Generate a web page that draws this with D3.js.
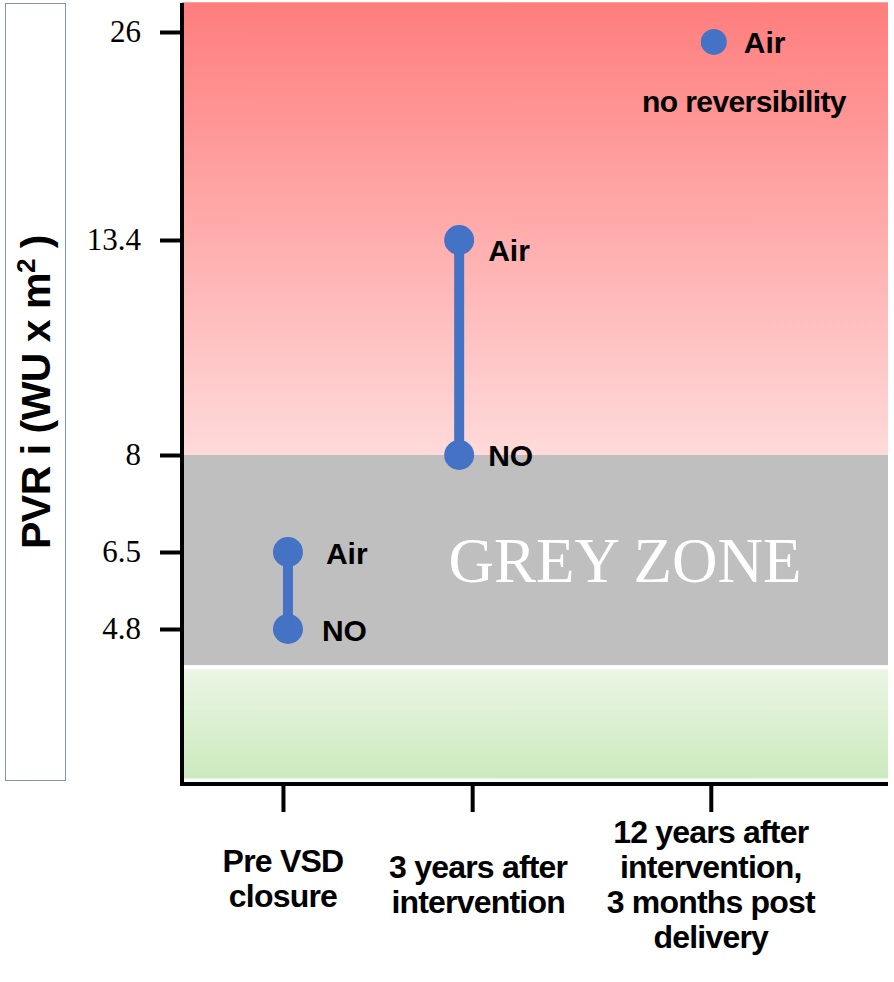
<!DOCTYPE html>
<html>
<head>
<meta charset="utf-8">
<script src="https://cdn.jsdelivr.net/npm/d3@7"></script>
<style>
  body { margin: 0; background: #fff; }
  svg { display: block; }
</style>
</head>
<body>
<svg id="chart"></svg>
<script>
// categories on the x axis (one array per line of the label)
const categories = ["Pre VSD closure", "3 years after intervention", "12 years after intervention, 3 months post delivery"];
const categoryLines = [
    ["Pre VSD", "closure"],
    ["3 years after", "intervention"],
    ["12 years after", "intervention,", "3 months post", "delivery"]
];

const airValues = [6.5, 13.4, 25.4];
const noValues = [4.8, 8, null];

// y tick labels - the axis is not linear, each tick sits where the original put it
const yTicks = [4.8, 6.5, 8, 13.4, 26];

// zones (PVRi)
const zoneNames = ["normal", "grey", "high"];
const zoneFrom = [1.5, 4, 8];
const zoneTo = [4, 8, 27.8];

const width = 894, height = 982;
const plot = { left: 182, right: 888, top: 3, bottom: 784 };

const svg = d3.select("#chart")
    .attr("width", width)
    .attr("height", height);

// piecewise scale, one segment between each tick
const y = d3.scaleLinear()
    .domain(yTicks)
    .range([629, 552, 455, 240, 32]);

// x positions of the three categories, as a share of the plot width
const xFrac = [0.143, 0.411, 0.749];
const x = d3.scaleOrdinal()
    .domain(categories)
    .range(xFrac.map(f => plot.left + f * (plot.right - plot.left)));
// the dots sit a little off their ticks in the original
const dotShift = [5, -13, 3];

// gradients
const defs = svg.append("defs");
const redGrad = defs.append("linearGradient").attr("id", "redGrad")
    .attr("x1", 0).attr("y1", 0).attr("x2", 0).attr("y2", 1);
redGrad.append("stop").attr("offset", "0%").attr("stop-color", "#ff7d7d");
redGrad.append("stop").attr("offset", "100%").attr("stop-color", "#ffdada");
const greenGrad = defs.append("linearGradient").attr("id", "greenGrad")
    .attr("x1", 0).attr("y1", 0).attr("x2", 0).attr("y2", 1);
greenGrad.append("stop").attr("offset", "0%").attr("stop-color", "#ecf6e6");
greenGrad.append("stop").attr("offset", "100%").attr("stop-color", "#cbeabd");

const zoneFill = d3.scaleOrdinal()
    .domain(zoneNames)
    .range(["url(#greenGrad)", "#bfbfbf", "url(#redGrad)"]);

// background zones
svg.append("g")
    .selectAll("rect")
    .data(zoneNames)
    .join("rect")
    .attr("x", plot.left)
    .attr("width", plot.right - plot.left)
    .attr("y", (d, i) => y(zoneTo[i]))
    .attr("height", (d, i) => y(zoneFrom[i]) - y(zoneTo[i]))
    .attr("fill", d => zoneFill(d));

// thin white gap between grey and green zone
svg.append("line")
    .attr("x1", plot.left).attr("x2", plot.right)
    .attr("y1", y(4) + 2).attr("y2", y(4) + 2)
    .attr("stroke", "#fff")
    .attr("stroke-width", 4);

// grey zone label
svg.append("text")
    .attr("x", 625)
    .attr("y", 582)
    .attr("text-anchor", "middle")
    .attr("fill", "#fff")
    .style("font-family", "'Liberation Serif', 'Times New Roman', serif")
    .style("font-size", "63px")
    .text("GREY ZONE");

// y axis title box
svg.append("rect")
    .attr("x", 5.5).attr("y", 3.5)
    .attr("width", 60).attr("height", 777)
    .attr("fill", "#fff")
    .attr("stroke", "#8494aa")
    .attr("stroke-width", 1);

const yTitle = svg.append("text")
    .attr("transform", "translate(50,392) rotate(-90)")
    .attr("text-anchor", "middle")
    .style("font-family", "'Liberation Sans', Arial, sans-serif")
    .style("font-weight", "bold")
    .style("font-size", "41px")
    .style("letter-spacing", "-0.5px");
yTitle.append("tspan").text("PVR i (WU x m");
yTitle.append("tspan").attr("dy", -15).style("font-size", "26px").text("2");
yTitle.append("tspan").attr("dy", 15).text(" )");

// y axis
const yAxis = svg.append("g")
    .attr("transform", `translate(${plot.left},0)`)
    .call(d3.axisLeft(y).tickValues(yTicks).tickSize(22).tickPadding(19).tickFormat(d => d));
yAxis.select(".domain").remove();
yAxis.selectAll(".tick line").attr("stroke", "#000").attr("stroke-width", 4);
yAxis.selectAll(".tick text")
    .attr("dy", "0.32em")
    .style("font-family", "'Liberation Serif', 'Times New Roman', serif")
    .style("font-size", "31px")
    .attr("fill", "#000");

// x axis
const xAxis = svg.append("g")
    .attr("transform", `translate(0,${plot.bottom})`)
    .call(d3.axisBottom(x).tickSize(28).tickFormat(""));
xAxis.select(".domain").remove();
xAxis.selectAll(".tick line").attr("stroke", "#000").attr("stroke-width", 4);

// axis lines
svg.append("line")
    .attr("x1", plot.left).attr("x2", plot.left)
    .attr("y1", plot.top).attr("y2", plot.bottom + 2)
    .attr("stroke", "#000").attr("stroke-width", 4);
svg.append("line")
    .attr("x1", plot.left - 2).attr("x2", plot.right)
    .attr("y1", plot.bottom).attr("y2", plot.bottom)
    .attr("stroke", "#000").attr("stroke-width", 4);

// category labels
const labelFirst = [872, 878, 843];
categories.forEach((c, i) => {
    const t = svg.append("text")
        .attr("text-anchor", "middle")
        .style("font-family", "'Liberation Sans', Arial, sans-serif")
        .style("font-weight", "bold")
        .style("font-size", "32px")
        .style("letter-spacing", "-0.8px");
    categoryLines[i].forEach((line, j) => {
        t.append("tspan")
            .attr("x", x(c) + (i === 1 ? 6 : 0))
            .attr("y", labelFirst[i] + j * 35)
            .text(line);
    });
});

// series: blue dots and connecting lines
const blue = "#4472c4";
const points = categories.map((c, i) => ({
    cat: c, cx: x(c) + dotShift[i], air: airValues[i], no: noValues[i]
}));

svg.append("g")
    .selectAll("line")
    .data(points.filter(d => d.no !== null))
    .join("line")
    .attr("x1", d => d.cx).attr("x2", d => d.cx)
    .attr("y1", d => y(d.air)).attr("y2", d => y(d.no))
    .attr("stroke", blue)
    .attr("stroke-width", 10);

const dots = [];
points.forEach(p => {
    dots.push({ cx: p.cx, v: p.air, lone: p.no === null });
    if (p.no !== null) dots.push({ cx: p.cx, v: p.no, lone: false });
});
svg.append("g")
    .selectAll("circle")
    .data(dots)
    .join("circle")
    .attr("cx", d => d.cx)
    .attr("cy", d => y(d.v))
    .attr("r", d => d.lone ? 13 : 15)
    .attr("fill", blue);

// point labels
const labelStyle = sel => sel
    .style("font-family", "'Liberation Sans', Arial, sans-serif")
    .style("font-weight", "bold")
    .style("font-size", "30px")
    .attr("fill", "#000");

const pointLabels = [
    { text: "Air", dx: 38, dy: 12, v: airValues[0], i: 0 },
    { text: "NO", dx: 34, dy: 12, v: noValues[0], i: 0 },
    { text: "Air", dx: 29, dy: 21, v: airValues[1], i: 1 },
    { text: "NO", dx: 29, dy: 11, v: noValues[1], i: 1 },
    { text: "Air", dx: 30, dy: 11, v: airValues[2], i: 2 }
];
svg.append("g")
    .selectAll("text")
    .data(pointLabels)
    .join("text")
    .attr("x", d => points[d.i].cx + d.dx)
    .attr("y", d => y(d.v) + d.dy)
    .text(d => d.text)
    .call(labelStyle);

svg.append("text")
    .attr("x", 744)
    .attr("y", 112)
    .attr("text-anchor", "middle")
    .text("no reversibility")
    .call(labelStyle)
    .style("letter-spacing", "-0.6px");
</script>
</body>
</html>
